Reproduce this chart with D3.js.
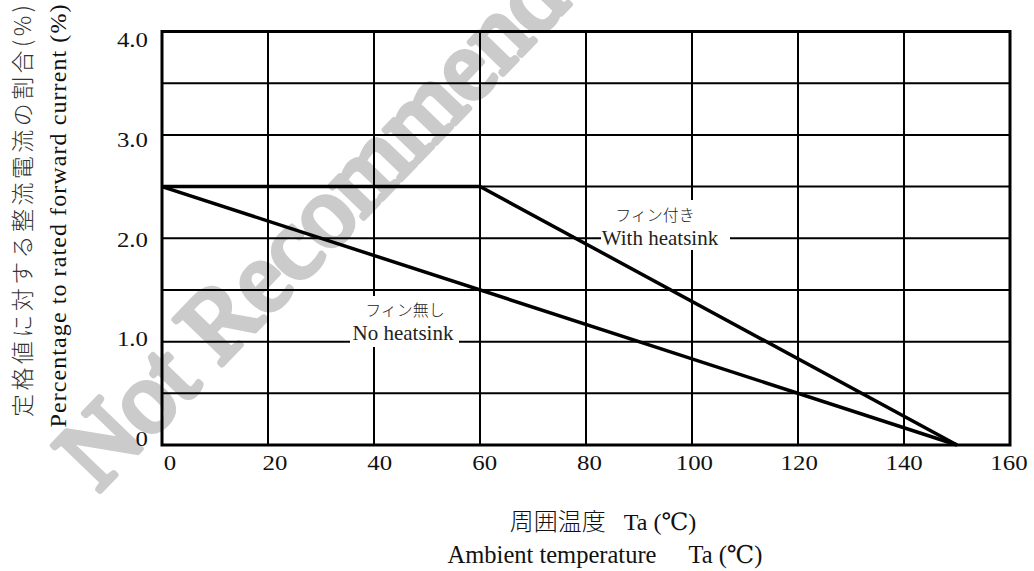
<!DOCTYPE html>
<html lang="en">
<head>
  <meta charset="UTF-8">
  <title>Derating curve</title>
  <script src="https://d3js.org/d3.v7.min.js"></script>
  <style>
    body { margin: 0; background: #fff; }
    svg { display: block; }
  </style>
</head>
<body>
  <svg width="1034" height="571"></svg>
  <script>
    // ambient temperature (deg C) / current ratio
    const xTicks = [0, 20, 40, 60, 80, 100, 120, 140, 160];
    const yGrid = [0, 0.5, 1, 1.5, 2, 2.5, 3, 3.5, 4];
    const yTicks = [0, 1, 2, 3, 4];
    const yTickLabels = ["0", "1.0", "2.0", "3.0", "4.0"];

    const withTemp = [0, 60, 150];
    const withVal = [2.5, 2.5, 0];
    const noTemp = [0, 150];
    const noVal = [2.5, 0];

    const SERIF = "'Liberation Serif', 'DejaVu Serif', serif";
    const JP = "'Noto Sans CJK JP', sans-serif";

    const svg = d3.select("svg");
    const margin = {top: 31.5, right: 24, bottom: 126, left: 162};
    const W = +svg.attr("width"), H = +svg.attr("height");

    const x = d3.scaleLinear().domain([0, 160]).range([margin.left, W - margin.right]);
    const y = d3.scaleLinear().domain([0, 4]).range([H - margin.bottom, margin.top]);
    // tick labels in the original sit slightly off their grid lines
    const xLab = d3.scaleLinear().domain([0, 160]).range([170, 1009]);
    const yLab = d3.scaleLinear().domain([0, 4]).range([446, 47]);

    // watermark (under everything); regular face thickened with a stroke
    svg.append("text")
      .attr("transform", "translate(98,493) rotate(-46)")
      .attr("font-family", SERIF)
      .attr("font-size", 100)
      .attr("fill", "#cbcbcb")
      .attr("stroke", "#cbcbcb")
      .attr("stroke-width", 6)
      .attr("stroke-linejoin", "round")
      .text("Not Recommended");

    const grid = svg.append("g");
    grid.selectAll(".vg").data(xTicks).enter().append("line")
      .attr("x1", d => x(d)).attr("x2", d => x(d))
      .attr("y1", y(0)).attr("y2", y(4))
      .attr("stroke", "#000").attr("stroke-width", 2);
    grid.selectAll(".hg").data(yGrid).enter().append("line")
      .attr("x1", x(0)).attr("x2", x(160))
      .attr("y1", d => y(d)).attr("y2", d => y(d))
      .attr("stroke", "#000").attr("stroke-width", 2);
    grid.append("rect")
      .attr("x", x(0)).attr("y", y(4))
      .attr("width", x(160) - x(0)).attr("height", y(0) - y(4))
      .attr("fill", "none").attr("stroke", "#000").attr("stroke-width", 3);

    // tick labels (the original face is a little wider than Times)
    svg.selectAll(".xl").data(xTicks).enter().append("text")
      .attr("font-family", SERIF).attr("font-size", 22).attr("fill", "#111")
      .attr("transform", d => `translate(${xLab(d)},470) scale(1.13,1)`)
      .attr("text-anchor", "middle")
      .text(d => d);
    svg.selectAll(".yl").data(yTicks).enter().append("text")
      .attr("font-family", SERIF).attr("font-size", 22).attr("fill", "#111")
      .attr("transform", d => `translate(148,${yLab(d)}) scale(1.13,1)`)
      .attr("text-anchor", "end")
      .text((d, i) => yTickLabels[i]);

    // white boxes behind the curve notes
    svg.append("rect").attr("x", 350).attr("y", 296).attr("width", 109).attr("height", 51).attr("fill", "#fff");
    svg.append("rect").attr("x", 601).attr("y", 200).attr("width", 129).attr("height", 50).attr("fill", "#fff");

    const line = d3.line().x(d => x(d[0])).y(d => y(d[1]));
    svg.append("path")
      .datum(withTemp.map((t, i) => [t, withVal[i]]))
      .attr("d", line).attr("fill", "none")
      .attr("stroke", "#000").attr("stroke-width", 3.5);
    svg.append("path")
      .datum(noTemp.map((t, i) => [t, noVal[i]]))
      .attr("d", line).attr("fill", "none")
      .attr("stroke", "#000").attr("stroke-width", 3.5);

    function note(tx, ty, txt, fam, size) {
      svg.append("text").attr("x", tx).attr("y", ty).attr("text-anchor", "middle")
        .attr("font-family", fam).attr("font-size", size)
        .attr("fill", "#222").attr("font-weight", fam === JP ? 300 : 400)
        .text(txt);
    }
    note(405, 316, "フィン無し", JP, 16);
    note(403, 340, "No heatsink", SERIF, 21);
    note(655, 221, "フィン付き", JP, 16);
    note(660, 245, "With heatsink", SERIF, 21);

    // axis titles
    svg.append("text")
      .attr("transform", "translate(21,211) rotate(-90)")
      .attr("text-anchor", "middle").attr("dominant-baseline", "central")
      .attr("font-family", JP).attr("font-weight", 300).attr("font-size", 23).attr("fill", "#333")
      .attr("textLength", 412).attr("lengthAdjust", "spacing")
      .text("定格値に対する整流電流の割合(%)");
    svg.append("text")
      .attr("transform", "translate(66,216) rotate(-90)")
      .attr("text-anchor", "middle")
      .attr("font-family", SERIF).attr("font-size", 24).attr("fill", "#111")
      .attr("textLength", 423).attr("lengthAdjust", "spacing")
      .text("Percentage to rated forward current (%)");

    const t1 = svg.append("text").attr("x", 603).attr("y", 530).attr("text-anchor", "middle").attr("fill", "#111");
    t1.append("tspan").attr("font-family", JP).attr("font-weight", 300).attr("font-size", 24).text("周囲温度");
    t1.append("tspan").attr("font-family", SERIF).attr("font-size", 24).text("\u2002 Ta (℃)");

    const t2 = svg.append("text").attr("x", 605).attr("y", 563).attr("text-anchor", "middle").attr("fill", "#111")
      .attr("font-family", SERIF).attr("font-size", 24.5);
    t2.append("tspan").text("Ambient temperature");
    t2.append("tspan").attr("dx", 32).text("Ta (℃)");
  </script>
</body>
</html>
